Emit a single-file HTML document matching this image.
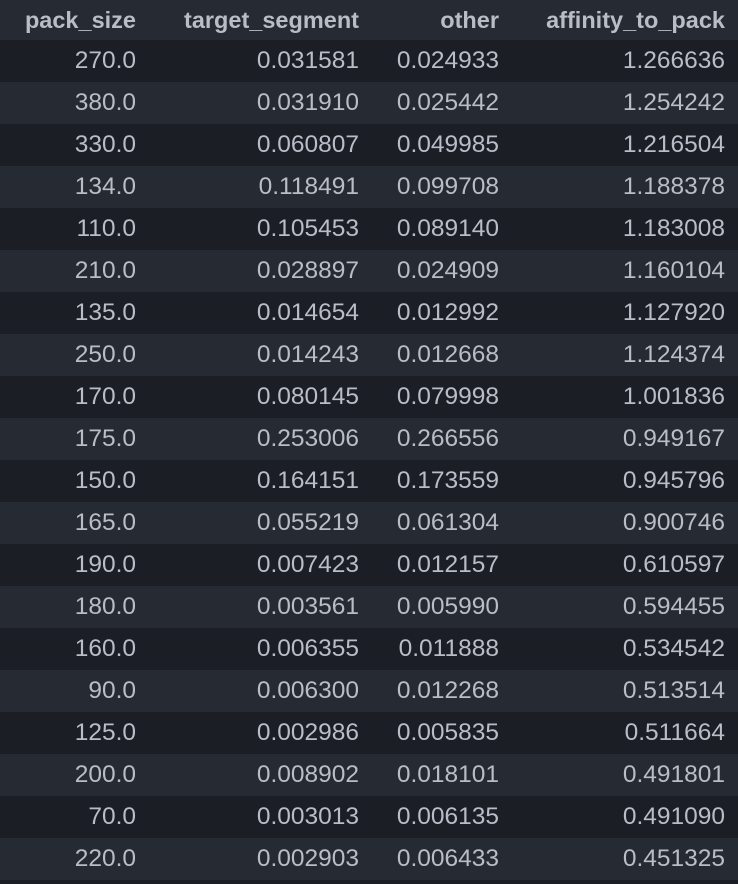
<!DOCTYPE html>
<html><head><meta charset="utf-8"><style>
body{margin:0;background:#1b1e25;width:738px;height:884px;overflow:hidden;font-family:"Liberation Sans",sans-serif;}
table{border-collapse:collapse;width:738px;}
th,td{text-align:right;padding:0;height:42px;font-size:24.5px;color:#b9bdc7;white-space:nowrap;}
th{height:40px;font-weight:bold;font-size:23.5px;background:#262a33;}
tr:nth-child(odd) td{background:#1b1e25;}
tr:nth-child(even) td{background:#262a33;}
.c1{width:136px;}.c2{width:223px;}.c3{width:140px;}.c4{width:226px;}
td:last-child,th:last-child{padding-right:13px;}
</style></head><body>
<table>
<thead><tr>
<th class="c1">pack_size</th>
<th class="c2">target_segment</th>
<th class="c3">other</th>
<th class="c4">affinity_to_pack</th>
</tr></thead>
<tbody id="tb"></tbody>
</table>
<script>
const packSizes=["270.0","380.0","330.0","134.0","110.0","210.0","135.0","250.0","170.0","175.0","150.0","165.0","190.0","180.0","160.0","90.0","125.0","200.0","70.0","220.0"];
const targetSeg=["0.031581","0.031910","0.060807","0.118491","0.105453","0.028897","0.014654","0.014243","0.080145","0.253006","0.164151","0.055219","0.007423","0.003561","0.006355","0.006300","0.002986","0.008902","0.003013","0.002903"];
const other=["0.024933","0.025442","0.049985","0.099708","0.089140","0.024909","0.012992","0.012668","0.079998","0.266556","0.173559","0.061304","0.012157","0.005990","0.011888","0.012268","0.005835","0.018101","0.006135","0.006433"];
const affinity=["1.266636","1.254242","1.216504","1.188378","1.183008","1.160104","1.127920","1.124374","1.001836","0.949167","0.945796","0.900746","0.610597","0.594455","0.534542","0.513514","0.511664","0.491801","0.491090","0.451325"];
const tb=document.getElementById('tb');
for(let i=0;i<packSizes.length;i++){
  const tr=document.createElement('tr');
  
  
  [packSizes[i],targetSeg[i],other[i],affinity[i]].forEach(v=>{
    const td=document.createElement('td');
    
    
    td.textContent=v;tr.appendChild(td);
  });
  tb.appendChild(tr);
}
</script>
</body></html>
